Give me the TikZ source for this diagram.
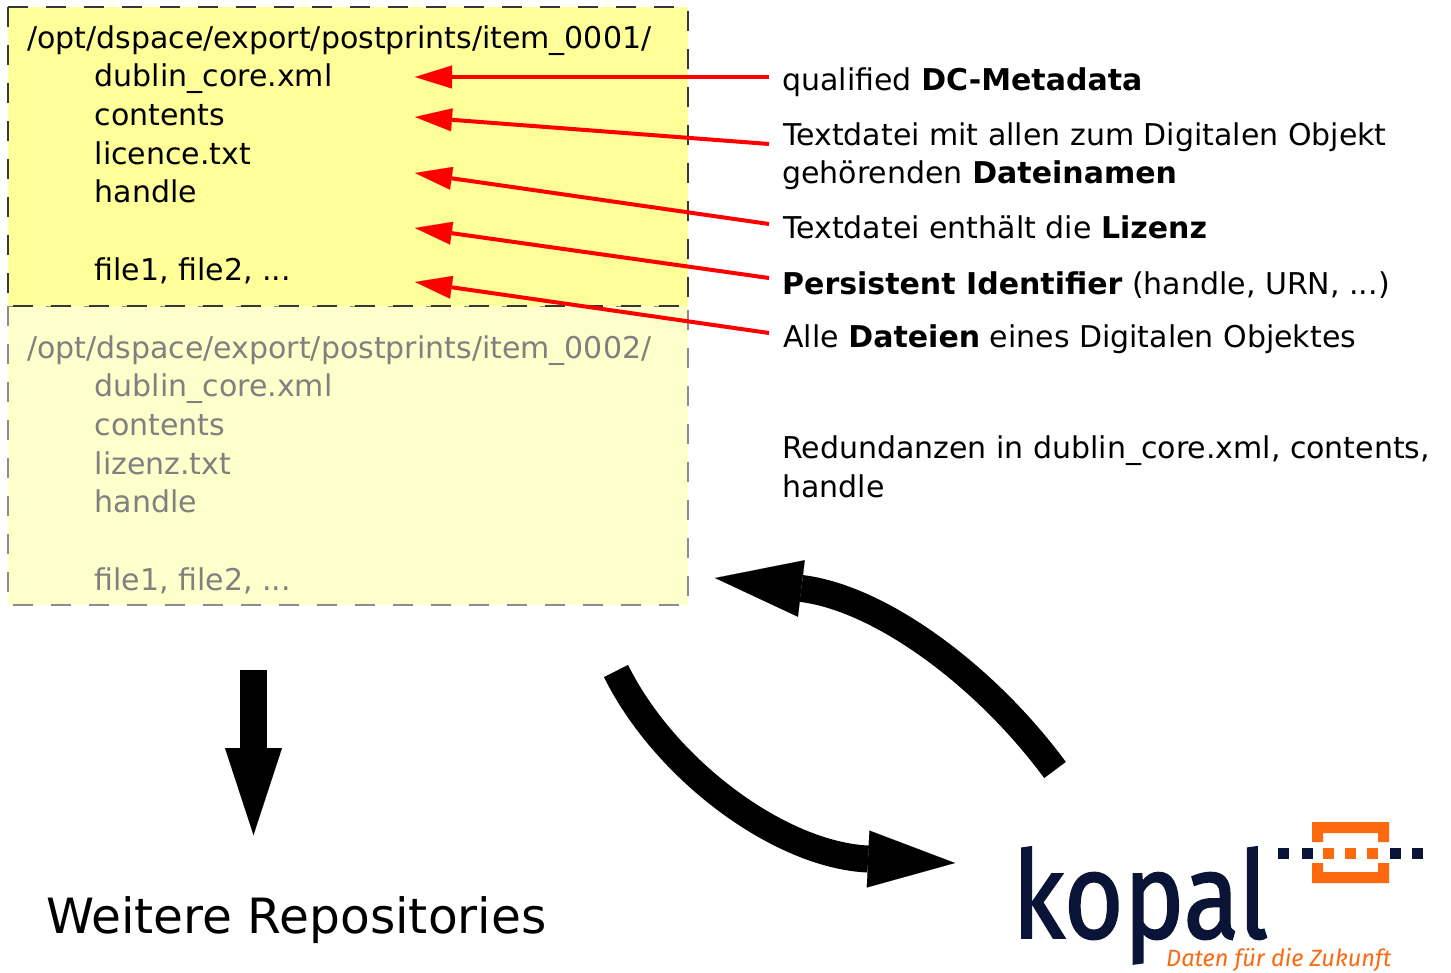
\documentclass[tikz,border=0pt]{standalone}
\usepackage{fontspec}
\setmainfont{DejaVu Sans}
\newfontfamily\logofont{Fira Sans}[FakeBold=1.6]
\newfontfamily\logoitfont{Fira Sans}[ItalicFont={* Italic}]
\usetikzlibrary{arrows.meta}
\definecolor{boxyellow}{RGB}{255,255,153}
\definecolor{boxpale}{RGB}{255,255,204}
\definecolor{boxline}{RGB}{55,55,55}
\definecolor{paleline}{RGB}{140,140,140}
\definecolor{paletext}{RGB}{128,128,128}
\definecolor{kopalnavy}{RGB}{10,20,55}
\definecolor{kopalorange}{RGB}{252,105,15}
\begin{document}
\begin{tikzpicture}[x=1pt,y=-1pt,
  txt/.style={anchor=base west, inner sep=0pt, font=\fontsize{30}{36}\selectfont},
  paletxt/.style={txt, text=paletext},
  itembox/.style={line width=1.8pt, dash pattern=on 20pt off 18pt},
  redarrow/.style={draw=red, line width=4pt, -{Triangle[length=37pt,width=23pt,line width=0.1pt]}},
  bigarrow/.style={draw=black, line width=27pt, -{Triangle[length=87pt,width=57pt,line width=0.1pt]}}
]
\useasboundingbox (0,0) rectangle (1451,972);
\fill[white] (0,0) rectangle (1451,972);

% boxes
\path[itembox, fill=boxpale, draw=paleline] (8,306) rectangle (688,605);
\path[itembox, fill=boxyellow, draw=boxline] (8,7) rectangle (688,306);

% box 1 text
\node[txt] (p1) at (27,48) {/opt/dspace/export/postprints/item\_0001/};
\node[txt] (d1) at (94.5,86.7) {dublin\_core.xml};
\node[txt] (c1) at (94.5,125.4) {contents};
\node[txt] (l1) at (94.5,164.1) {licence.txt};
\node[txt] (h1) at (94.5,202.8) {handle};
\node[txt] (f1) at (94.5,280.2) {file1, file2, ...};

% box 2 text
\node[paletxt] (p2) at (27,358) {/opt/dspace/export/postprints/item\_0002/};
\node[paletxt] (d2) at (94.5,396.7) {dublin\_core.xml};
\node[paletxt] (c2) at (94.5,435.4) {contents};
\node[paletxt] (l2) at (94.5,474.1) {lizenz.txt};
\node[paletxt] (h2) at (94.5,512.8) {handle};
\node[paletxt] (f2) at (94.5,590.2) {file1, file2, ...};

% right-hand texts
\node[txt] (r1) at (782,90) {qualified \textbf{DC-Metadata}};
\node[txt] (r2a) at (783,145) {Textdatei mit allen zum Digitalen Objekt};
\node[txt] (r2b) at (782,183) {gehörenden \textbf{Dateinamen}};
\node[txt] (r3) at (783,238) {Textdatei enthält die \textbf{Lizenz}};
\node[txt] (r4) at (782,294) {\textbf{Persistent Identifier} (handle, URN, ...)};
\node[txt] (r5) at (783,347) {Alle \textbf{Dateien} eines Digitalen Objektes};
\node[txt] (r6a) at (782,458) {Redundanzen in dublin\_core.xml, contents,};
\node[txt] (r6b) at (782,497) {handle};

% red arrow end points
\coordinate (s1) at (769,77);   \coordinate (t1) at (415,77);
\coordinate (s2) at (769,144);  \coordinate (t2) at (415,117);
\coordinate (s3) at (769,224);  \coordinate (t3) at (415,173);
\coordinate (s4) at (769,278);  \coordinate (t4) at (415,228);
\coordinate (s5) at (769,333);  \coordinate (t5) at (415,282);
\draw[redarrow] (s1) -- (t1);
\draw[redarrow] (s2) -- (t2);
\draw[redarrow] (s3) -- (t3);
\draw[redarrow] (s4) -- (t4);
\draw[redarrow] (s5) -- (t5);

% Weitere Repositories
\node[anchor=base west, inner sep=0pt, font=\fontsize{48.6}{56}\selectfont] (wr) at (46,933) {Weitere Repositories};

% kopal logo
\node[anchor=base west, inner sep=0pt, text=kopalnavy] (kopal) at (1012,938)
  {\raisebox{0pt}[91pt][0pt]{\resizebox{256pt}{91pt}{\logofont kopal}}};
\node[anchor=base west, inner sep=0pt, text=kopalorange] (claim) at (1166,966)
  {\resizebox{225pt}{!}{\logoitfont\itshape Daten für die Zukunft}};
\fill[kopalorange] (1312,822) -- (1389,822) -- (1389,842) -- (1378,842) -- (1378,833)
  -- (1323,833) -- (1323,842) -- (1312,842) -- cycle;
\fill[kopalorange] (1312,883) -- (1389,883) -- (1389,863) -- (1378,863) -- (1378,872)
  -- (1323,872) -- (1323,863) -- (1312,863) -- cycle;
\foreach \xx in {1278,1302,1390,1412} \fill[kopalnavy] (\xx,848) rectangle ++(10.5,10.5);
\foreach \xx in {1323,1345,1367} \fill[kopalorange] (\xx,848) rectangle ++(11,10.5);

% big black arrows
\coordinate (down0) at (253.5,670);
\coordinate (down1) at (253.5,835);
\draw[bigarrow] (down0) -- (down1);
\coordinate (back0) at (1055,770);
\coordinate (back1) at (715,578);
\draw[bigarrow] (back0) .. controls (985,675) and (880,598) .. (back1);
\coordinate (out0) at (616,671);
\coordinate (out1) at (955,863);
\draw[bigarrow] (out0) .. controls (665,770) and (780,855) .. (out1);
\end{tikzpicture}
\end{document}
